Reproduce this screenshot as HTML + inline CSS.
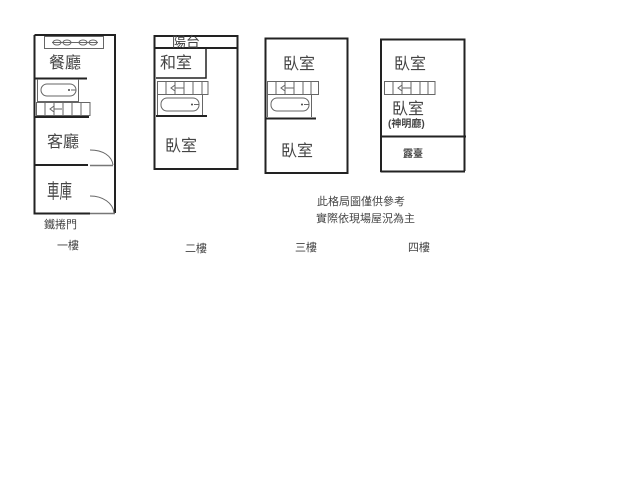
<!DOCTYPE html>
<html><head><meta charset="utf-8"><style>
html,body{margin:0;padding:0;background:#fff}
svg{display:block}
text{font-family:"Liberation Sans","WenQuanYi Zen Hei","Noto Sans CJK TC",sans-serif;fill:#444}
.l{stroke:#222;fill:none}
.g{stroke:#777;fill:none;stroke-width:1.5}
.t{stroke:#666;fill:none;stroke-width:1}
</style></head><body>
<svg width="640" height="480" viewBox="0 0 640 480" xmlns="http://www.w3.org/2000/svg">
<!-- Floor 1 -->
<path class="l" stroke-width="2" d="M34.5 35H115V213M34.5 35V213.500H90"/>
<rect class="t" x="44.500" y="36.500" width="59" height="12"/>
<g class="t"><ellipse cx="57" cy="42.500" rx="4" ry="2.500"/><ellipse cx="67" cy="42.500" rx="4" ry="2.500"/><ellipse cx="83" cy="42.500" rx="4" ry="2.500"/><ellipse cx="93" cy="42.500" rx="4" ry="2.500"/><path d="M52 42.500H98"/></g>
<text x="49" y="68" font-size="16">餐廳</text>
<path class="l" stroke-width="2" d="M34 78.500H87M34 117H89M34 165H88"/>
<path class="t" d="M37.500 79V101.500H78.500V79"/>
<rect class="t" x="41" y="84" width="35" height="12" rx="6"/>
<circle cx="69" cy="90" r="1" fill="#444"/><path class="t" d="M71 90h5"/>
<path class="t" d="M36.500 102.500H90V115.500H36.500ZM45 102.500V115.500M54 102.500V115.500M63 102.500V115.500M72 102.500V115.500M81 102.500V115.500M54 109H62M54 106L50 109L54 112Z"/>
<text x="47" y="147" font-size="16">客廳</text>
<path class="g" d="M90 165.500H113"/><path class="t" d="M90 150C103 150 112 156 113 165"/>
<text transform="translate(47 198) scale(.78 1.25)" font-size="16">車庫</text>
<path class="g" d="M90 213.500H115"/><path class="t" d="M90 196C103 196 113 203 114 213"/>
<text x="44" y="228" font-size="11">鐵捲門</text>
<text x="57" y="249" font-size="11">一樓</text>
<!-- Floor 2 -->
<path class="l" stroke-width="2" d="M154.500 36H237.500V169H154.500ZM154 48H238"/>
<path class="l" stroke-width="1.500" d="M206 48V78H156"/>
<text x="172" y="47" font-size="14">陽台</text>
<text x="160" y="68" font-size="16">和室</text>
<path class="t" d="M157.500 81.500H208V94.500H157.500ZM166 81.500V94.500M175 81.500V94.500M184 81.500V94.500M193 81.500V94.500M202 81.500V94.500M175 88H184M175 85L171 88L175 91Z"/>
<path class="t" d="M157.500 95V116M202.500 95V116"/>
<rect class="t" x="161" y="98" width="38" height="13" rx="6"/>
<circle cx="192" cy="104.500" r="1" fill="#444"/><path class="t" d="M194 104.500h5"/>
<path class="l" stroke-width="2" d="M156 116H207"/>
<text x="165" y="151" font-size="16">臥室</text>
<text x="185" y="252" font-size="11">二樓</text>
<!-- Floor 3 -->
<path class="l" stroke-width="2" d="M265.500 38.500H347.500V173H265.500Z"/>
<text x="283" y="69" font-size="16">臥室</text>
<path class="t" d="M267.500 81.500H318.500V94.500H267.500ZM276 81.500V94.500M285 81.500V94.500M294 81.500V94.500M303 81.500V94.500M311 81.500V94.500M285 88H294M285 85L281 88L285 91Z"/>
<path class="t" d="M267.500 95V117M311.500 95V117"/>
<rect class="t" x="271" y="98" width="38" height="13" rx="6"/>
<circle cx="302" cy="104.500" r="1" fill="#444"/><path class="t" d="M304 104.500h5"/>
<path class="l" stroke-width="2" d="M265 118.500H316"/>
<text x="281" y="156" font-size="16">臥室</text>
<text x="295" y="251" font-size="11">三樓</text>
<!-- Floor 4 -->
<path class="l" stroke-width="2" d="M381 172V39.500H464.500V171M380.500 171.500H465M381 136.500H466"/>
<text x="394" y="69" font-size="16">臥室</text>
<path class="t" d="M384.500 81.500H435V94.500H384.500ZM393 81.500V94.500M402 81.500V94.500M411 81.500V94.500M420 81.500V94.500M428 81.500V94.500M402 88H411M402 85L398 88L402 91Z"/>
<text x="392" y="114" font-size="16">臥室</text>
<text x="388" y="127" font-size="10" font-weight="bold">(神明廳)</text>
<text x="403" y="157" font-size="10" font-weight="bold">露臺</text>
<text x="408" y="251" font-size="11">四樓</text>
<!-- Note -->
<text x="317" y="205" font-size="11">此格局圖僅供參考</text>
<text x="316" y="222" font-size="11">實際依現場屋況為主</text>
</svg>
</body></html>
